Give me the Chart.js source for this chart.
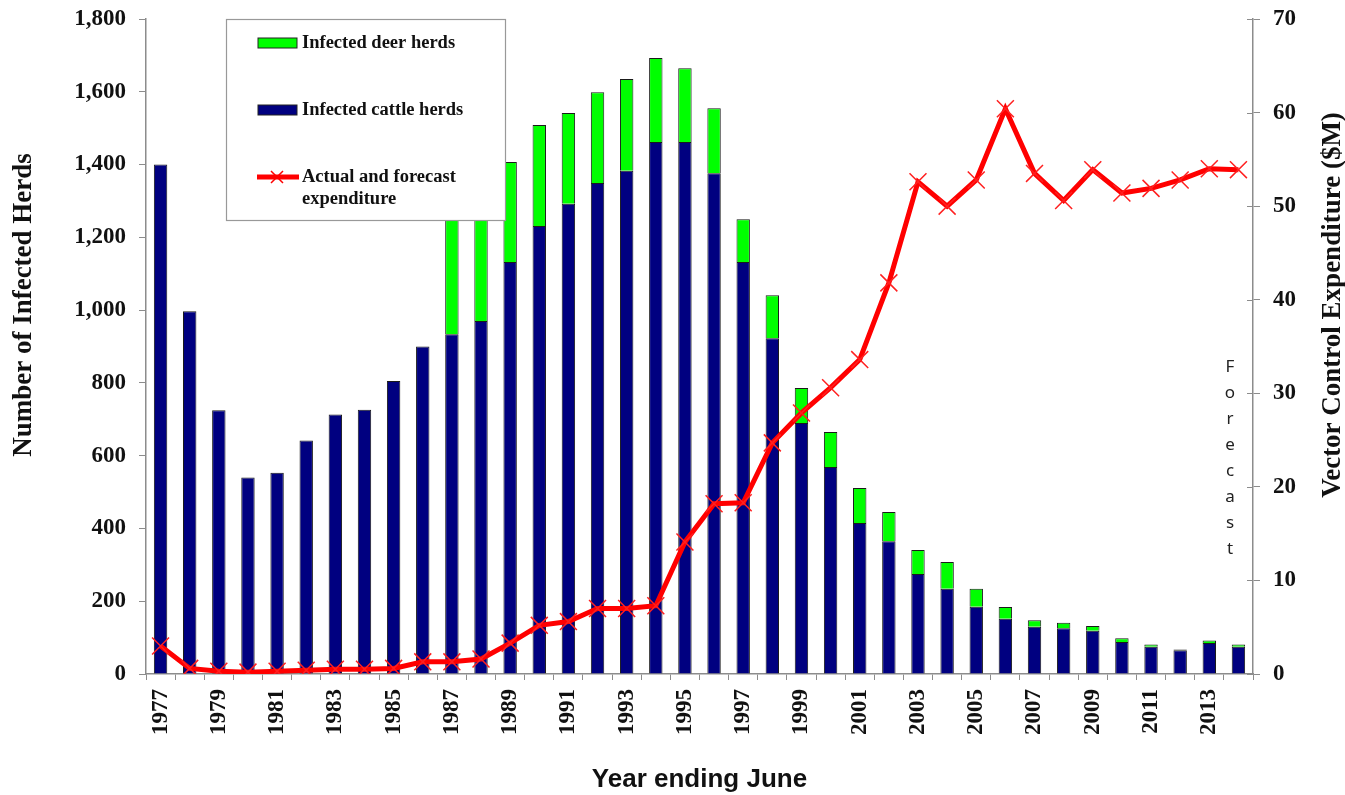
<!DOCTYPE html>
<html>
<head>
<meta charset="utf-8">
<script src="https://cdn.jsdelivr.net/npm/chart.js@4.4.1/dist/chart.umd.min.js"></script>
<style>
  html, body { margin: 0; padding: 0; background: #fff; }
  #wrap { width: 1345px; height: 795px; }
</style>
</head>
<body>
<div id="wrap"><canvas id="herdChart" width="1345" height="795"></canvas></div>
<script>
// Year ending June
const years = ['1977', '1978', '1979', '1980', '1981', '1982', '1983', '1984', '1985', '1986',
  '1987', '1988', '1989', '1990', '1991', '1992', '1993', '1994', '1995', '1996',
  '1997', '1998', '1999', '2000', '2001', '2002', '2003', '2004', '2005', '2006',
  '2007', '2008', '2009', '2010', '2011', '2012', '2013', '2014'];

// infected herds (stacked: cattle at the bottom, deer on top)
const cattleHerds = [1400, 997, 725, 540, 553, 642, 713, 726, 805, 900,
  934, 970, 1132, 1231, 1292, 1349, 1383, 1462, 1462, 1376,
  1132, 923, 690, 569, 415, 365, 275, 234, 185, 152,
  130, 126, 119, 88, 75, 65, 85, 75];
const deerHerds = [0, 0, 0, 0, 0, 0, 0, 0, 0, 0,
  336, 360, 275, 278, 250, 250, 252, 231, 203, 179,
  118, 118, 96, 96, 96, 80, 66, 74, 49, 32,
  18, 15, 13, 10, 6, 2, 7, 6];

// vector control expenditure, $M (actual and forecast)
const expenditure = [3.0, 0.6, 0.3, 0.2, 0.3, 0.4, 0.5, 0.5, 0.6, 1.3,
  1.3, 1.6, 3.3, 5.2, 5.6, 7.0, 7.0, 7.3, 14.1, 18.2,
  18.3, 24.7, 27.9, 30.6, 33.6, 41.8, 52.6, 50.0, 52.8, 60.4,
  53.5, 50.6, 53.9, 51.4, 51.9, 52.8, 54.0, 53.9];

// axis ranges
const herdAxis = { min: 0, max: 1800, step: 200 };
const spendAxis = { min: 0, max: 70, step: 10 };

const axisGrey = '#8c8c8c';

// legend box, axis titles and the "Forecast" note
const extrasPlugin = {
    id: 'extras',
    afterDraw(chart) {
        const ctx = chart.ctx;
        const area = chart.chartArea;
        const ds = chart.data.datasets;
        ctx.save();

        // inner half of the right axis tick marks
        const y1 = chart.scales.y1;
        ctx.strokeStyle = axisGrey;
        ctx.lineWidth = 1;
        y1.ticks.forEach((t) => {
            const py = Math.round(y1.getPixelForValue(t.value)) + 0.5;
            ctx.beginPath();
            ctx.moveTo(area.right - 6, py);
            ctx.lineTo(area.right, py);
            ctx.stroke();
        });

        // y axis titles
        ctx.fillStyle = '#111';
        ctx.font = "bold 27px 'Liberation Serif', 'Times New Roman', serif";
        ctx.textAlign = 'center';
        ctx.textBaseline = 'middle';
        ctx.save();
        ctx.translate(24, 305);
        ctx.rotate(-Math.PI / 2);
        ctx.fillText('Number of Infected Herds', 0, 0);
        ctx.restore();
        ctx.save();
        ctx.translate(1333, 305);
        ctx.rotate(-Math.PI / 2);
        ctx.fillText('Vector Control Expenditure ($M)', 0, 0);
        ctx.restore();

        // Forecast, one letter under the other
        ctx.font = "17px 'Noto Sans', 'Open Sans', sans-serif";
        ctx.fillStyle = '#222';
        const word = 'Forecast';
        for (let i = 0; i < word.length; i++) {
            ctx.fillText(word[i], area.right - 23, 367 + i * 26);
        }

        // legend
        const bx = 226.5, by = 19.5, bw = 279, bh = 201;
        ctx.fillStyle = '#fff';
        ctx.fillRect(bx, by, bw, bh);
        ctx.strokeStyle = '#999';
        ctx.lineWidth = 1.2;
        ctx.strokeRect(bx, by, bw, bh);

        ctx.font = "bold 18.5px 'Liberation Serif', 'Times New Roman', serif";
        ctx.textAlign = 'left';
        ctx.textBaseline = 'middle';

        const deer = ds[1], cattle = ds[0], spend = ds[2];
        [[deer, 43], [cattle, 110]].forEach(([d, y]) => {
            ctx.fillStyle = d.backgroundColor;
            ctx.fillRect(258, y - 5, 39, 10);
            ctx.strokeStyle = '#222';
            ctx.lineWidth = 1;
            ctx.strokeRect(258, y - 5, 39, 10);
            ctx.fillStyle = '#111';
            ctx.fillText(d.label, 302, y);
        });

        ctx.strokeStyle = spend.borderColor;
        ctx.lineWidth = 5;
        ctx.beginPath();
        ctx.moveTo(257, 177);
        ctx.lineTo(299, 177);
        ctx.stroke();
        ctx.lineWidth = 1.5;
        ctx.beginPath();
        ctx.moveTo(271, 171); ctx.lineTo(283, 183);
        ctx.moveTo(271, 183); ctx.lineTo(283, 171);
        ctx.stroke();
        ctx.fillStyle = '#111';
        ctx.fillText('Actual and forecast', 302, 177);
        ctx.fillText('expenditure', 302, 199);

        ctx.restore();
    }
};

// fixed axis box sizes so the plot area sits where the original one does
function fixVertical(width) {
    return (scale) => {
        scale.width = width;
        scale.paddingTop = 0;
        scale.paddingBottom = 0;
    };
}

const ctx = document.getElementById('herdChart').getContext('2d');

const herdChart = new Chart(ctx, {
    data: {
        labels: years,
        datasets: [
            {
                type: 'bar',
                label: 'Infected cattle herds',
                data: cattleHerds,
                backgroundColor: '#000080',
                borderColor: '#1a1a1a',
                borderWidth: 1,
                barPercentage: 0.46,
                categoryPercentage: 1,
                stack: 'herds',
                yAxisID: 'y',
                order: 1
            },
            {
                type: 'bar',
                label: 'Infected deer herds',
                data: deerHerds,
                backgroundColor: '#00ff00',
                borderColor: '#1a1a1a',
                borderWidth: 1,
                barPercentage: 0.46,
                categoryPercentage: 1,
                stack: 'herds',
                yAxisID: 'y',
                order: 2
            },
            {
                type: 'line',
                label: 'Actual and forecast expenditure',
                data: expenditure,
                borderColor: '#ff0000',
                backgroundColor: '#ff0000',
                borderWidth: 5,
                tension: 0,
                pointStyle: 'crossRot',
                pointRadius: 12,
                pointBorderWidth: 1.5,
                pointBorderColor: '#ff2020',
                yAxisID: 'y1',
                order: 0
            }
        ]
    },
    options: {
        responsive: false,
        animation: false,
        devicePixelRatio: 1,
        layout: { padding: { top: 19, left: 0, right: 0, bottom: 0 } },
        plugins: {
            legend: { display: false },
            tooltip: { enabled: false },
            title: { display: false }
        },
        scales: {
            x: {
                type: 'category',
                offset: true,
                stacked: true,
                afterFit: (scale) => { scale.height = 121; },
                border: { color: axisGrey, width: 1.5 },
                grid: {
                    offset: true,
                    drawOnChartArea: false,
                    drawTicks: true,
                    tickLength: 6,
                    color: axisGrey
                },
                ticks: {
                    autoSkip: false,
                    minRotation: 90,
                    maxRotation: 90,
                    padding: 9,
                    color: '#111',
                    font: { family: "'Liberation Serif', 'Times New Roman', serif", size: 23, weight: 'bold' },
                    callback: function (value, index) {
                        return index % 2 === 0 ? this.getLabelForValue(value) : '';
                    }
                },
                title: {
                    display: true,
                    text: 'Year ending June',
                    color: '#111',
                    padding: { top: 0, bottom: 0 },
                    font: { family: "'Liberation Sans', Arial, sans-serif", size: 26, weight: 'bold' }
                }
            },
            y: {
                position: 'left',
                stacked: true,
                min: herdAxis.min,
                max: herdAxis.max,
                afterFit: fixVertical(146),
                border: { color: axisGrey, width: 1.5 },
                grid: {
                    drawOnChartArea: false,
                    drawTicks: true,
                    tickLength: 7,
                    color: axisGrey
                },
                ticks: {
                    stepSize: herdAxis.step,
                    padding: 13,
                    color: '#111',
                    font: { family: "'Liberation Serif', 'Times New Roman', serif", size: 23, weight: 'bold' }
                }
            },
            y1: {
                position: 'right',
                min: spendAxis.min,
                max: spendAxis.max,
                afterFit: fixVertical(92),
                border: { color: axisGrey, width: 1.5 },
                grid: {
                    drawOnChartArea: false,
                    drawTicks: true,
                    tickLength: 7,
                    color: axisGrey
                },
                ticks: {
                    stepSize: spendAxis.step,
                    padding: 13,
                    color: '#111',
                    font: { family: "'Liberation Serif', 'Times New Roman', serif", size: 23, weight: 'bold' }
                }
            }
        }
    },
    plugins: [extrasPlugin]
});
</script>
</body>
</html>
